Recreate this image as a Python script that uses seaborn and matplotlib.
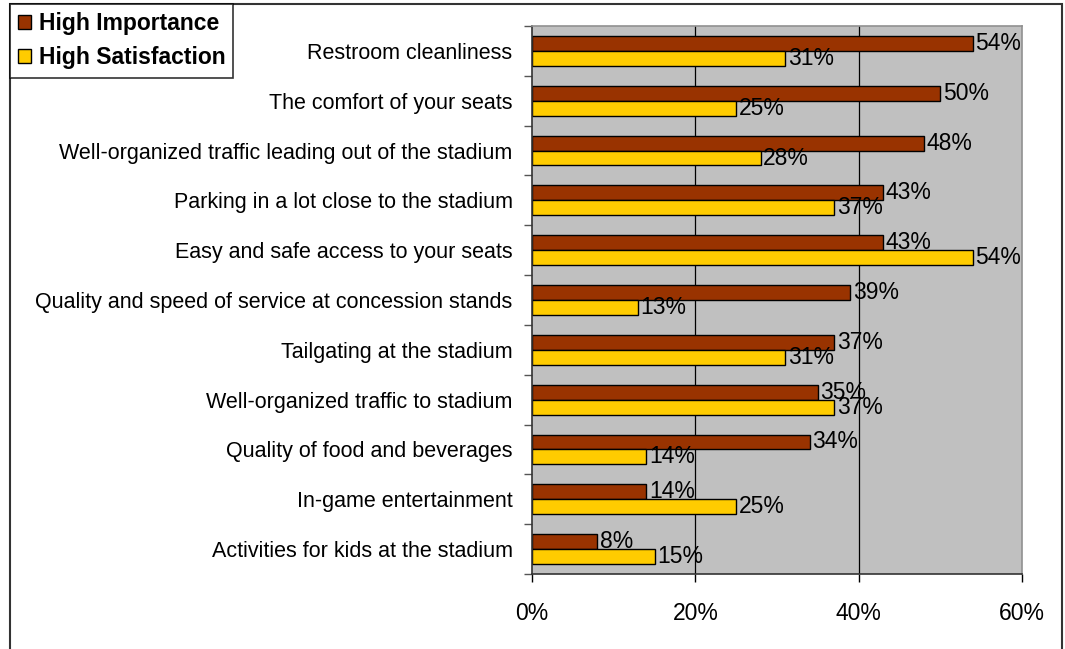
import matplotlib
matplotlib.use("Agg")
import matplotlib.pyplot as plt
import matplotlib.patches as mpatches
import numpy as np
import pandas as pd
import seaborn as sns

categories = [
    "Restroom cleanliness",
    "The comfort of your seats",
    "Well-organized traffic leading out of the stadium",
    "Parking in a lot close to the stadium",
    "Easy and safe access to your seats",
    "Quality and speed of service at concession stands",
    "Tailgating at the stadium",
    "Well-organized traffic to stadium",
    "Quality of food and beverages",
    "In-game entertainment",
    "Activities for kids at the stadium",
]
high_importance = [54, 50, 48, 43, 43, 39, 37, 35, 34, 14, 8]
high_satisfaction = [31, 25, 28, 37, 54, 13, 31, 37, 14, 25, 15]
series_names = ["High Importance", "High Satisfaction"]
x_ticks = [0, 20, 40, 60]

colors = {"High Importance": "#993300", "High Satisfaction": "#FFCC00"}

df = pd.DataFrame({
    "category": categories * 2,
    "value": high_importance + high_satisfaction,
    "series": [series_names[0]] * len(categories) + [series_names[1]] * len(categories),
})

sns.set_theme(style="white")
plt.rcParams["font.family"] = ["Liberation Sans", "DejaVu Sans"]
plt.rcParams["text.color"] = "black"
plt.rcParams["xtick.color"] = "black"
plt.rcParams["ytick.color"] = "black"

fig = plt.figure(figsize=(10.65, 6.49), dpi=100)
ax = fig.add_axes([532 / 1065, 1 - 574 / 649, 490 / 1065, 548 / 649])

sns.barplot(
    data=df, y="category", x="value", hue="series", order=categories,
    hue_order=series_names, palette=colors, saturation=1, orient="h", width=0.6,
    edgecolor="black", linewidth=1.0, ax=ax, legend=False,
)

ax.set_facecolor("#C0C0C0")
ax.set_xlim(0, 60)
ax.set_ylim(len(categories) - 0.5, -0.5)
ax.set_xlabel("")
ax.set_ylabel("")

# vertical gridlines
for xv in x_ticks[1:-1]:
    ax.axvline(xv, color="black", linewidth=0.9, zorder=0.5)

ax.set_xticks(x_ticks)
ax.set_xticklabels([f"{v}%" for v in x_ticks], fontsize=16.5, color="black")
ax.tick_params(axis="x", direction="out", length=6, width=1, colors="black", pad=14, bottom=True)

ax.set_yticks(range(len(categories)))
ax.set_yticklabels(categories, fontsize=15.5, color="black")
ax.tick_params(axis="y", length=0, pad=14)
ax.set_yticks(np.arange(-0.5, len(categories), 1), minor=True)
ax.tick_params(axis="y", which="minor", direction="out", length=6, width=1, color="#555555", left=True)

for side in ["left", "bottom"]:
    ax.spines[side].set_color("#333333")
    ax.spines[side].set_linewidth(1.2)
for side in ["top", "right"]:
    ax.spines[side].set_color("#909090")
    ax.spines[side].set_linewidth(1.2)

# value labels
for cont, vals in zip(ax.containers, [high_importance, high_satisfaction]):
    for bar, v in zip(cont, vals):
        y = bar.get_y() + bar.get_height() / 2
        ax.text(v + 0.3, y, f"{v}%", va="center", ha="left", fontsize=16.5, color="black")

# outer frame
fig.patches.append(mpatches.Rectangle(
    (10 / 1065, -0.05), 1052 / 1065, 1.05 - 4 / 649,
    transform=fig.transFigure, fill=False, edgecolor="#333333", linewidth=1.5))

handles = [mpatches.Patch(facecolor=colors[s], edgecolor="black", linewidth=1.0, label=s)
           for s in series_names]
leg = fig.legend(
    handles=handles, loc="upper left", bbox_to_anchor=(10 / 1065, 1 - 4 / 649),
    bbox_transform=fig.transFigure, borderaxespad=0, frameon=True, fancybox=False,
    prop={"weight": "bold", "size": 16.5}, handlelength=0.55, handleheight=0.55,
    handletextpad=0.35, labelspacing=0.5, borderpad=0.35,
)
leg.get_frame().set_edgecolor("black")
leg.get_frame().set_linewidth(1.2)
for t in leg.get_texts():
    t.set_color("black")

fig.savefig("out.png", dpi=100)
